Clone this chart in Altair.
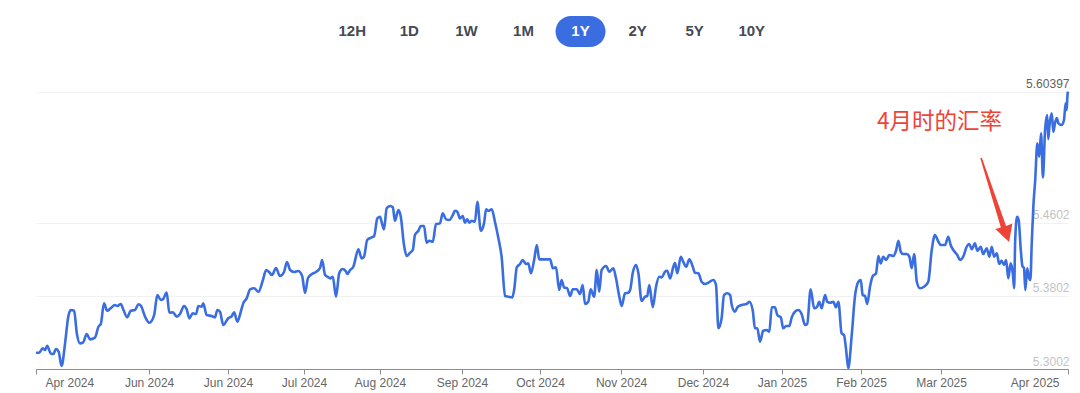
import json
import altair as alt
import pandas as pd

# ---- data ----
day = [0.0, 1.2, 2.5, 3.4, 4.2, 5.5, 6.5, 7.5, 8.5, 9.6, 10.9, 12.1, 13.0, 14.3, 15.3, 16.5, 17.7, 19.0, 20.3, 22.1,
       23.4, 24.3, 25.5, 26.7, 28.0, 29.6, 30.5, 31.8, 32.7, 34.2, 35.5, 37.1, 38.4, 39.4, 40.9, 42.5, 44.3, 45.5, 46.8, 47.7,
       49.0, 50.0, 51.3, 52.8, 54.0, 55.5, 56.5, 57.5, 58.8, 60.0, 60.9, 62.1, 62.7, 64.0, 65.9, 67.1, 68.0, 69.0, 70.2, 72.1,
       73.4, 74.3, 75.5, 76.8, 77.7, 79.0, 80.3, 81.8, 83.4, 85.1, 86.3, 87.4, 88.5, 90.0, 91.5, 93.0, 94.1, 95.3, 96.8, 98.3,
       99.8, 100.9, 102.0, 103.5, 105.0, 106.5, 107.3, 108.4, 109.5, 110.3, 111.3, 112.5, 113.7, 115.0, 116.3, 116.7, 117.8, 119.0, 120.9, 122.1,
       123.0, 124.2, 125.9, 126.8, 128.0, 129.0, 129.6, 130.5, 131.5, 132.8, 133.8, 134.6, 135.9, 136.8, 138.0, 139.0, 140.3, 141.3, 142.1, 143.4,
       144.3, 145.5, 146.5, 147.5, 148.8, 150.0, 151.5, 152.5, 153.8, 155.0, 156.3, 157.1, 158.0, 159.0, 160.0, 160.9, 161.7, 162.5, 163.4, 164.6,
       165.5, 166.8, 168.0, 168.8, 169.6, 170.9, 172.1, 173.4, 174.6, 175.9, 177.1, 178.6, 179.3, 180.3, 181.5, 182.5, 183.8, 184.6, 185.6, 186.8,
       187.8, 188.7, 190.2, 192.8, 193.8, 195.0, 196.2, 197.1, 198.0, 199.2, 200.3, 201.3, 202.8, 204.0, 205.0, 205.9, 207.1, 208.0, 209.3, 210.3,
       211.2, 212.1, 213.8, 215.0, 216.5, 217.5, 218.7, 219.6, 220.9, 222.1, 222.8, 223.8, 225.0, 225.9, 227.1, 228.4, 229.2, 230.0, 231.3, 232.5,
       233.7, 234.6, 235.9, 236.7, 237.8, 239.0, 239.6, 240.5, 241.8, 242.7, 243.8, 245.0, 246.3, 247.1, 248.4, 249.6, 250.9, 252.1, 254.0, 255.0,
       255.9, 257.1, 258.0, 259.2, 260.3, 260.9, 262.1, 263.0, 264.6, 266.5, 267.5, 268.8, 269.6, 270.5, 271.5, 272.7, 274.0, 275.0, 275.9, 277.1,
       278.0, 279.3, 280.2, 281.3, 282.5, 283.4, 284.6, 285.9, 287.1, 288.4, 289.2, 290.5, 291.8, 292.8, 293.7, 294.6, 295.9, 296.7, 297.8, 299.0,
       300.0, 300.9, 302.1, 303.0, 303.8, 304.6, 305.9, 307.1, 308.4, 309.3, 310.0, 310.9, 311.7, 312.8, 313.8, 315.0, 315.9, 316.8, 317.7, 318.8,
       320.0, 321.5, 322.5, 323.4, 324.3, 325.2, 326.5, 327.5, 328.4, 329.3, 330.3, 331.5, 333.0, 334.6, 335.9, 337.1, 338.4, 339.3, 340.9, 342.1,
       343.0, 344.0, 345.5, 346.5, 347.7, 349.0, 350.0, 350.9, 352.1, 353.0, 354.3, 355.2, 356.5, 357.5, 358.4, 359.3, 360.3, 361.2, 362.1, 363.0,
       363.8, 364.6, 365.5, 366.3, 366.8, 367.2, 367.9, 368.5, 369.3, 369.9, 370.5, 371.0, 371.7, 372.4, 372.9, 373.4, 374.0, 374.7, 375.5, 376.2,
       376.9, 377.6, 378.4, 379.2, 379.6, 380.0, 380.9, 381.5, 382.1, 382.8, 383.4, 384.6, 385.5, 386.1, 386.5, 386.8, 387.0]

rate = [5.3180, 5.3180, 5.3229, 5.3210, 5.3257, 5.3174, 5.3166, 5.3221, 5.3191, 5.3035, 5.3283, 5.3575, 5.3648, 5.3640, 5.3393, 5.3283, 5.3294, 5.3385, 5.3327, 5.3345,
        5.3465, 5.3495, 5.3721, 5.3640, 5.3667, 5.3703, 5.3692, 5.3714, 5.3656, 5.3568, 5.3640, 5.3648, 5.3711, 5.3692, 5.3575, 5.3509, 5.3593, 5.3812, 5.3758, 5.3769,
        5.3838, 5.3619, 5.3623, 5.3575, 5.3604, 5.3692, 5.3656, 5.3557, 5.3612, 5.3604, 5.3692, 5.3684, 5.3721, 5.3593, 5.3582, 5.3568, 5.3648, 5.3629, 5.3484, 5.3557,
        5.3582, 5.3623, 5.3520, 5.3629, 5.3721, 5.3776, 5.3875, 5.3886, 5.3848, 5.3977, 5.4086, 5.4064, 5.4031, 5.4108, 5.4020, 5.4064, 5.4174, 5.4086, 5.4064, 5.4075,
        5.4020, 5.3834, 5.3999, 5.4042, 5.4064, 5.4108, 5.4196, 5.4031, 5.4009, 5.3995, 5.4013, 5.3794, 5.4050, 5.4097, 5.4067, 5.4042, 5.4086, 5.4122, 5.4313, 5.4214,
        5.4232, 5.4415, 5.4444, 5.4458, 5.4652, 5.4670, 5.4615, 5.4532, 5.4762, 5.4787, 5.4773, 5.4626, 5.4743, 5.4670, 5.4360, 5.4239, 5.4276, 5.4305, 5.4469, 5.4516,
        5.4568, 5.4568, 5.4385, 5.4407, 5.4396, 5.4590, 5.4597, 5.4707, 5.4641, 5.4634, 5.4688, 5.4735, 5.4724, 5.4652, 5.4677, 5.4604, 5.4641, 5.4604, 5.4626, 5.4615,
        5.4834, 5.4516, 5.4597, 5.4751, 5.4735, 5.4751, 5.4615, 5.4433, 5.4232, 5.3801, 5.3794, 5.3787, 5.3867, 5.4116, 5.4152, 5.4196, 5.4152, 5.4159, 5.4050, 5.4196,
        5.4360, 5.4203, 5.4203, 5.4203, 5.4105, 5.4116, 5.3867, 5.3977, 5.3897, 5.3886, 5.3801, 5.3875, 5.3875, 5.3823, 5.3922, 5.3714, 5.3739, 5.3875, 5.3794, 5.4086,
        5.3848, 5.4086, 5.4130, 5.4067, 5.4105, 5.3995, 5.3801, 5.3692, 5.3831, 5.3838, 5.3867, 5.4056, 5.4141, 5.4050, 5.3747, 5.3794, 5.3801, 5.3922, 5.3678, 5.3903,
        5.4013, 5.4006, 5.4067, 5.4078, 5.3995, 5.4122, 5.4166, 5.4050, 5.4232, 5.4177, 5.4122, 5.4203, 5.4122, 5.4056, 5.4050, 5.3958, 5.3933, 5.3947, 5.3977, 5.3922,
        5.3448, 5.3557, 5.3812, 5.3831, 5.3812, 5.3703, 5.3629, 5.3678, 5.3703, 5.3714, 5.3739, 5.3640, 5.3448, 5.3448, 5.3301, 5.3421, 5.3429, 5.3410, 5.3678, 5.3678,
        5.3593, 5.3568, 5.3448, 5.3473, 5.3473, 5.3568, 5.3629, 5.3648, 5.3604, 5.3484, 5.3495, 5.3875, 5.3667, 5.3678, 5.3739, 5.3667, 5.3812, 5.3739, 5.3728, 5.3739,
        5.3678, 5.3739, 5.3393, 5.3374, 5.3210, 5.3010, 5.3374, 5.3794, 5.3958, 5.3977, 5.3812, 5.3801, 5.3714, 5.3911, 5.4020, 5.4048, 5.4239, 5.4159, 5.4232, 5.4196,
        5.4250, 5.4239, 5.4297, 5.4407, 5.4286, 5.4261, 5.4261, 5.4232, 5.4105, 5.4261, 5.3958, 5.3886, 5.3903, 5.3958, 5.4305, 5.4469, 5.4396, 5.4360, 5.4360, 5.4451,
        5.4360, 5.4305, 5.4250, 5.4196, 5.4232, 5.4341, 5.4371, 5.4313, 5.4378, 5.4297, 5.4341, 5.4261, 5.4324, 5.4232, 5.4341, 5.4232, 5.4269, 5.4152, 5.4188, 5.4141,
        5.4196, 5.3995, 5.4159, 5.4050, 5.3886, 5.4415, 5.4670, 5.4634, 5.4305, 5.4130, 5.4108, 5.3867, 5.4105, 5.3999, 5.3977, 5.4378, 5.4779, 5.5072, 5.5473, 5.5327,
        5.5583, 5.5100, 5.5619, 5.5783, 5.5520, 5.5655, 5.5802, 5.5600, 5.5692, 5.5750, 5.5692, 5.5674, 5.5729, 5.5911, 5.5838, 5.6002, 5.6040]

tick_days = [0, 42.4, 72.0, 100.5, 129.0, 159.75, 189.0, 219.4, 250.1, 279.75, 309.4, 339.4, 387]
tick_labels = ["Apr 2024", "Jun 2024", "Jun 2024", "Jul 2024", "Aug 2024", "Sep 2024", "Oct 2024",
               "Nov 2024", "Dec 2024", "Jan 2025", "Feb 2025", "Mar 2025", "Apr 2025"]
y_ticks = [5.3002, 5.3802, 5.4602, 5.60397]
y_labels = ["5.3002", "5.3802", "5.4602", "5.60397"]
buttons = ["12H", "1D", "1W", "1M", "1Y", "2Y", "5Y", "10Y"]
active_button = "1Y"
note_text = "4月时的汇率"

# ---- layout / style ----
BLUE = "#3a6ee0"
RED = "#ee4437"
FONT = "Liberation Sans"
X_DOMAIN = [0, 387]
Y_DOMAIN = [5.3002, 5.6956]

line_df = pd.DataFrame({"day": day, "rate": rate})

x_scale = alt.Scale(domain=X_DOMAIN, nice=False, zero=False)
y_scale = alt.Scale(domain=Y_DOMAIN, nice=False, zero=False)

x_label_expr = f"{json.dumps(tick_labels, ensure_ascii=False)}[indexof({json.dumps(tick_days)}, datum.value)]"
y_label_expr = f"{json.dumps(y_labels)}[indexof({json.dumps(y_ticks)}, datum.value)]"

X_AXIS = alt.Axis(
    values=tick_days, labelExpr=x_label_expr, title=None, grid=False,
    domainColor="#8c8c8c", tickColor="#8c8c8c", tickSize=5, labelPadding=3,
    labelColor="#666666", labelFont=FONT, labelFontSize=12,
    labelFlush=True, labelFlushOffset=-9, labelOverlap=False)
Y_AXIS = alt.Axis(
    orient="right", values=y_ticks, labelExpr=y_label_expr, title=None,
    grid=True, gridColor="#f1f1f1", domain=False, ticks=False, tickSize=0,
    labelAlign="right", labelBaseline="bottom", labelPadding=1, labelOffset=-1,
    labelFont=FONT, labelFontSize=12, labelOverlap=False,
    labelColor={"condition": {"test": "datum.value > 5.6", "value": "#5f5f5f"}, "value": "#c3c3c3"})

X = alt.X("day:Q", scale=x_scale, axis=X_AXIS)
Y = alt.Y("rate:Q", scale=y_scale, axis=Y_AXIS)

line = alt.Chart(line_df).mark_line(color=BLUE, strokeWidth=2.6, interpolate="monotone").encode(x=X, y=Y)

# annotation
note = alt.Chart(pd.DataFrame({"t": [note_text], "day": [315.4], "rate": [5.5707]})).mark_text(
    align="left", baseline="middle", font="Noto Sans CJK SC", fontSize=22.5, color=RED
).encode(x=X, y=Y, text="t:N")

ARROW_PATH = "M0.8,-0.3 L25.0,68.0 L31.3,65.5 L28,84 L14.3,71.1 L19.8,69.4 L-0.8,0.3 Z"
arrow = alt.Chart(pd.DataFrame({"day": [354.4], "rate": [5.5313]})).mark_point(
    shape=ARROW_PATH, size=4, filled=True, color=RED, opacity=1, strokeWidth=0
).encode(x=X, y=Y)

# period buttons above the plot
btn_df = pd.DataFrame({"label": buttons, "i": list(range(len(buttons)))})
btn_base = alt.Chart(btn_df).transform_calculate(
    day="193.5 + (datum.i - 3.5) * 21.4",
    rate="5.6699",
    day_a="datum.day - 9.375", day_b="datum.day + 9.375",
    rate_a="datum.rate - 0.017", rate_b="datum.rate + 0.017",
    active=f"datum.label == '{active_button}'",
)
pill = btn_base.transform_filter("datum.active").mark_rect(color=BLUE, cornerRadius=15.5).encode(
    x=alt.X("day_a:Q", scale=x_scale, axis=X_AXIS), x2="day_b:Q",
    y=alt.Y("rate_a:Q", scale=y_scale, axis=Y_AXIS), y2="rate_b:Q",
)
btn_text = btn_base.mark_text(font=FONT, fontSize=15, fontWeight="bold", baseline="middle", align="center").encode(
    x=X, y=Y,
    text="label:N",
    color=alt.condition("datum.active", alt.value("#ffffff"), alt.value("#454a55")),
)

chart = alt.layer(line, note, arrow, pill, btn_text).properties(
    width=1032, height=361,
    autosize=alt.AutoSizeParams(type="none"),
    padding={"left": 28, "top": 0, "right": 4, "bottom": 24},
    background="white",
).configure_view(strokeWidth=0)

chart.save("out.html", embed_options={"renderer": "svg", "actions": False})
